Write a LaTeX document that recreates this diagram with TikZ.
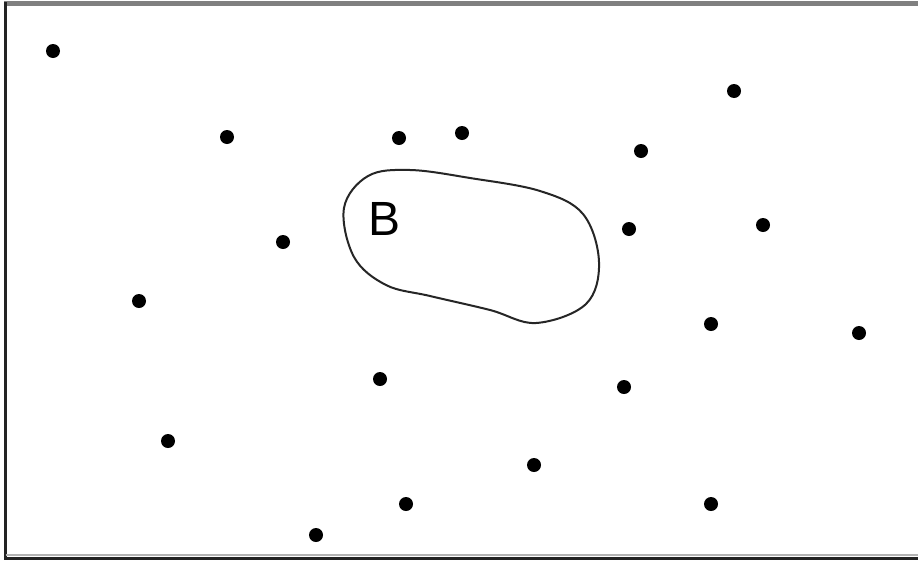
\documentclass[tikz,border=0pt]{standalone}
\usepackage{fontspec}
\setmainfont{Liberation Sans}
\usepackage{tikz}
\usetikzlibrary{positioning,calc}
\definecolor{framegray}{RGB}{128,128,128}
\definecolor{framedark}{RGB}{35,35,35}

\begin{document}
\begin{tikzpicture}[x=1pt, y=-1pt,
    dot/.style={circle, fill=black, inner sep=0pt, minimum size=14pt},
    region/.style={line width=2pt, black!85}]
        \useasboundingbox (0,0) rectangle (918,560);
        \fill[white] (0,0) rectangle (918,560);

        % frame
        \draw[framegray, line width=5pt] (4,3.5) -- (918,3.5);
        \draw[framedark, line width=3pt] (5.5,2) -- (5.5,558);
        \draw[framegray!60, line width=2pt] (5.5,555) -- (918,555);
        \draw[framedark, line width=3pt] (4,558.5) -- (918,558.5);

        % region B
        \draw[region] plot[smooth cycle, tension=0.6] coordinates {
          (344,208) (368,176) (410,170) (470,178) (540,191) (583,214)
          (599,262) (586,304) (536,323) (490,310) (430,296) (386,285) (354,257)};
        \node[font=\fontsize{48}{48}\selectfont, inner sep=0pt] (lblB) at (385,219) {B};

        % points
        \foreach \x/\y [count=\i] in {53/51,227/137,399/138,462/133,734/91,641/151,
            629/229,763/225,283/242,139/301,711/324,859/333,380/379,624/387,
            168/441,534/465,406/504,711/504,316/535} {
          \node[dot] (p\i) at (\x,\y) {};
        }
\end{tikzpicture}
\end{document}
